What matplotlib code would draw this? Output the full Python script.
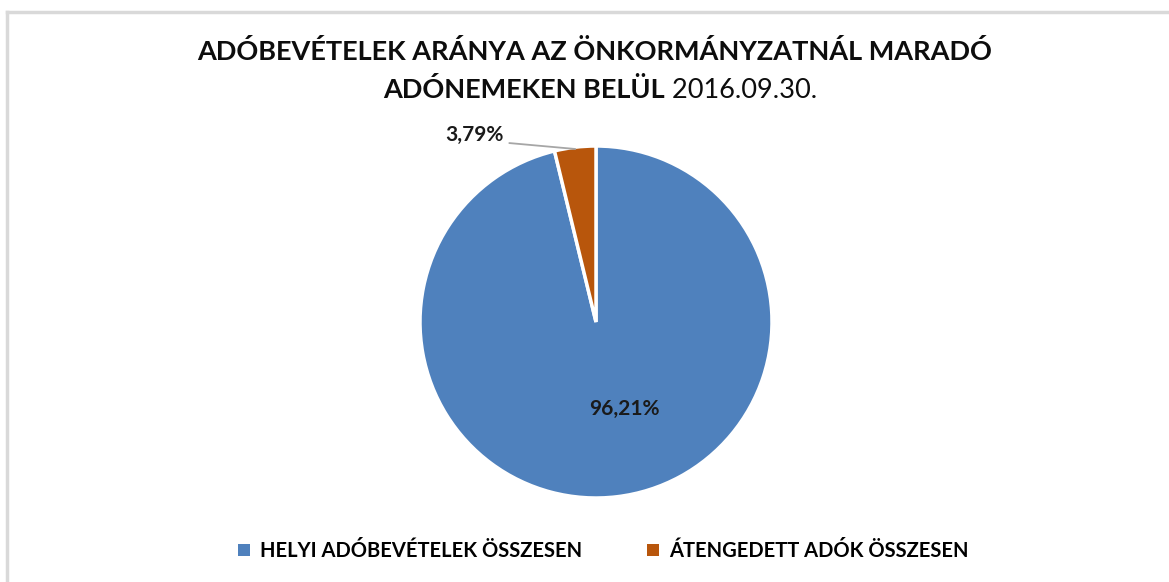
import numpy as np
import matplotlib
matplotlib.use("Agg")
import matplotlib.pyplot as plt
from matplotlib.lines import Line2D
from matplotlib.patches import Patch

plt.rcParams['font.family'] = ['Lato', 'DejaVu Sans']

# data
categories = ['HELYI ADÓBEVÉTELEK ÖSSZESEN', 'ÁTENGEDETT ADÓK ÖSSZESEN']
shares = [96.21, 3.79]
pct_labels = ['96,21%', '3,79%']
colors = ['#4F81BD', '#B8560C']

title_bold_1 = 'ADÓBEVÉTELEK ARÁNYA AZ ÖNKORMÁNYZATNÁL MARADÓ'
title_bold_2 = 'ADÓNEMEKEN BELÜL'
title_date = '2016.09.30.'

W, H = 1169, 582
fig = plt.figure(figsize=(W / 100, H / 100), dpi=100)

# light grey frame (chart area border)
fig.add_artist(Line2D([7 / W, 7 / W], [0, 1 - 12 / H], color='#D9D9D9', lw=2.5))
fig.add_artist(Line2D([7 / W, 1], [1 - 12 / H, 1 - 12 / H], color='#D9D9D9', lw=2.5))

# pie axes
cx, cy, r = 596, 322, 176
ax = fig.add_axes([(cx - r) / W, (H - cy - r) / H, 2 * r / W, 2 * r / H])
wedges, _ = ax.pie(shares, colors=colors, startangle=90, counterclock=False,
                   radius=1.0, wedgeprops=dict(edgecolor='white', linewidth=2.5))
ax.set_xlim(-1.0, 1.0)
ax.set_ylim(-1.0, 1.0)
ax.set_aspect('equal')
ax.axis('off')

# data labels
for i, (w, lab) in enumerate(zip(wedges, pct_labels)):
    ang = np.deg2rad((w.theta1 + w.theta2) / 2)
    x, y = np.cos(ang), np.sin(ang)
    if i == 0:
        ax.text(x * 0.5 + 0.1, y * 0.5, lab, ha='center', va='center',
                fontsize=15, fontweight='bold', color='#1a1a1a')
    else:
        ax.annotate(lab, xy=(x * 0.99, y * 0.99), xytext=(-0.69, 1.065),
                    ha='center', va='center', fontsize=15, fontweight='bold',
                    color='#1a1a1a', annotation_clip=False,
                    arrowprops=dict(arrowstyle='-', color='#A6A6A6', lw=1.3,
                                    relpos=(1.0, 0.1), shrinkA=2, shrinkB=0))

# title
fig.text(595 / W, 1 - 52 / H, title_bold_1, ha='center', va='center',
         fontsize=19.5, fontweight='bold', color='#0d0d0d')
t1 = fig.text(0.5, 1 - 90 / H, title_bold_2, ha='left', va='center',
              fontsize=19.5, fontweight='bold', color='#0d0d0d')
t2 = fig.text(0.5, 1 - 90 / H, ' ' + title_date, ha='left', va='center',
              fontsize=19.5, color='#0d0d0d')
fig.canvas.draw()
rend = fig.canvas.get_renderer()
w1 = t1.get_window_extent(rend).width / W
w2 = t2.get_window_extent(rend).width / W
x0 = 600 / W - (w1 + w2) / 2
t1.set_x(x0)
t2.set_x(x0 + w1)

# legend
handles = [Patch(facecolor=c, edgecolor='none') for c in colors]
fig.legend(handles, categories, loc='center', bbox_to_anchor=(603 / W, 1 - 551 / H),
           ncol=2, frameon=False, handlelength=0.6, handleheight=0.6,
           handletextpad=0.5, columnspacing=3.2,
           prop=dict(size=14.5, weight='bold'))

fig.savefig('out.png', dpi=100, facecolor='white')
